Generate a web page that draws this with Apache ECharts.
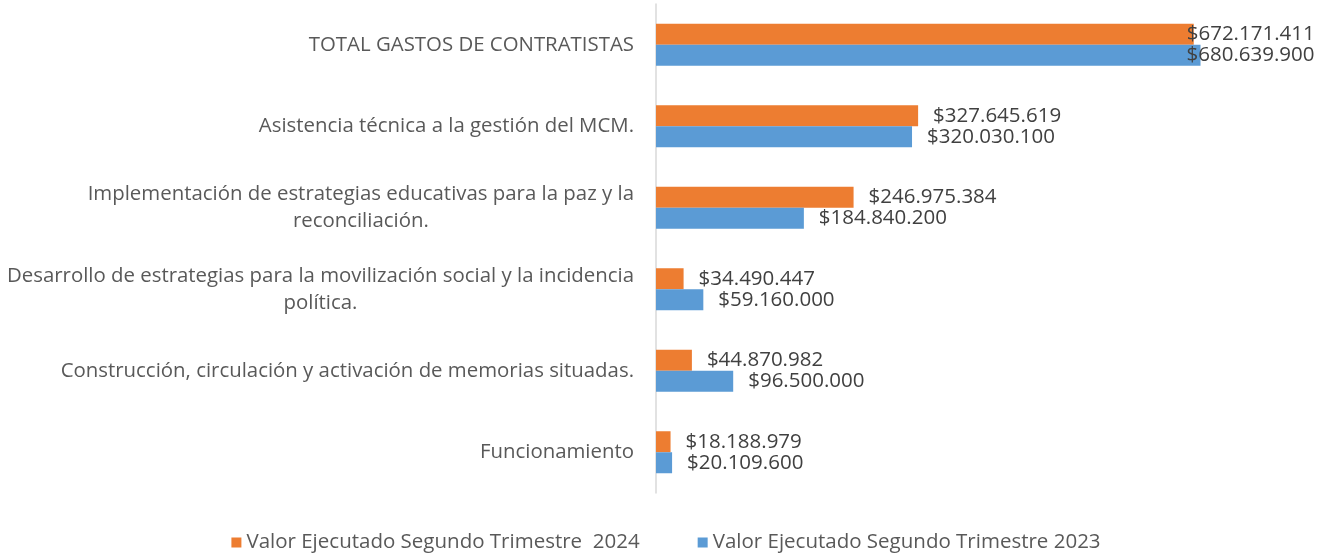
<html>
  <head>
    <meta charset="utf-8" />
    <script src="https://cdn.jsdelivr.net/npm/echarts@6/dist/echarts.min.js"></script>
  </head>
  <body>
    <style>
      html,
      body,
      #main {
        width: 100%;
        height: 100%;
        margin: 0;
        background: #fff;
      }
    </style>
    <div id="main"></div>
    <script>
      // bottom to top, as on the axis
      const categories = [
        "Funcionamiento",
        "Construcción, circulación y activación de memorias situadas.",
        "Desarrollo de estrategias para la movilización social y la incidencia\npolítica.",
        "Implementación de estrategias educativas para la paz y la\nreconciliación.",
        "Asistencia técnica a la gestión del MCM.",
        "TOTAL GASTOS DE CONTRATISTAS",
      ];
      const valores2024 = [18188979, 44870982, 34490447, 246975384, 327645619, 672171411];
      const valores2023 = [20109600, 96500000, 59160000, 184840200, 320030100, 680639900];
      const nombre2024 = "Valor Ejecutado Segundo Trimestre  2024";
      const nombre2023 = "Valor Ejecutado Segundo Trimestre 2023";

      const FONT = "Open Sans";

      function money(v) {
        return "$" + String(v).replace(/\B(?=(\d{3})+(?!\d))/g, ".");
      }

      // the total label is pulled back over the bar end, like in the original
      function withLabels(values, pull) {
        return values.map(function (v, i) {
          if (i === values.length - 1) {
            return { value: v, label: { distance: pull } };
          }
          return v;
        });
      }

      const barLabel = {
        show: true,
        position: "right",
        distance: 15,
        color: "#404040",
        fontFamily: FONT,
        fontSize: 20.5,
        formatter: function (p) {
          return money(p.value);
        },
      };

      var chart = echarts.init(document.getElementById("main"));

      var option = {
        animation: false,
        grid: {
          left: 656,
          right: 36,
          top: 4,
          height: 489,
          containLabel: false,
        },
        legend: {
          data: [nombre2024, nombre2023],
          bottom: -3,
          left: "center",
          icon: "rect",
          itemWidth: 10,
          itemHeight: 10,
          itemGap: 58,
          textStyle: { color: "#595959", fontFamily: FONT, fontSize: 20.5 },
        },
        xAxis: {
          type: "value",
          min: 0,
          max: 800000000,
          show: false,
        },
        yAxis: {
          type: "category",
          data: categories,
          axisLine: { lineStyle: { color: "#d9d9d9", width: 1.5 } },
          axisTick: { show: false },
          axisLabel: {
            margin: 22,
            color: "#595959",
            fontFamily: FONT,
            fontSize: 20.4,
            lineHeight: 27,
            formatter: function (v) {
              return v
                .split("\n")
                .map(function (s) {
                  return "{c|" + s + "}";
                })
                .join("\n");
            },
            rich: {
              c: {
                align: "center",
                color: "#595959",
                fontFamily: FONT,
                fontSize: 20.4,
                lineHeight: 27,
              },
            },
          },
        },
        series: [
          {
            name: nombre2024,
            type: "bar",
            data: withLabels(valores2024, -7),
            barWidth: 21,
            barGap: "0%",
            itemStyle: { color: "#ED7D31" },
            label: barLabel,
          },
          {
            name: nombre2023,
            type: "bar",
            data: withLabels(valores2023, -14),
            barWidth: 21,
            barGap: "0%",
            itemStyle: { color: "#5B9BD5" },
            label: barLabel,
          },
        ],
      };

      chart.setOption(option);
      window.onresize = chart.resize;
    </script>
  </body>
</html>
